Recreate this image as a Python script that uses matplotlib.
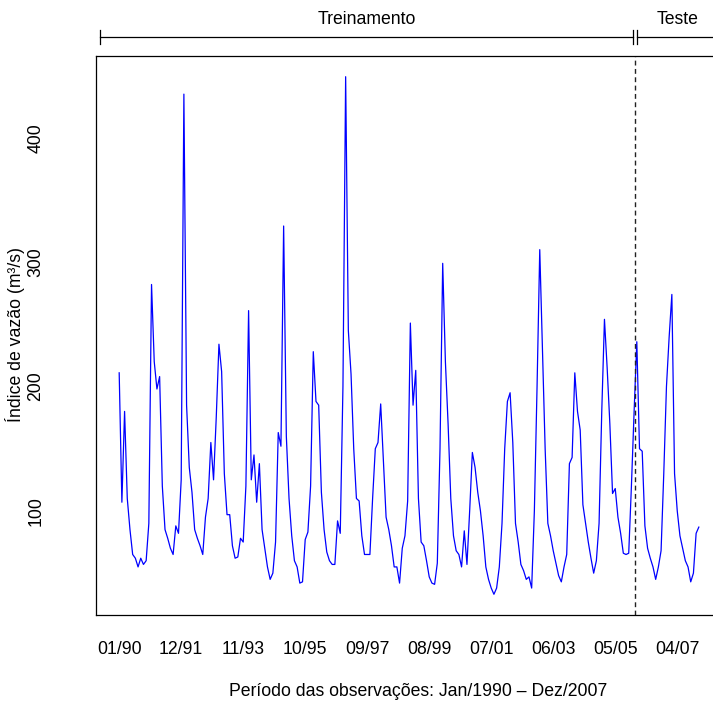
import numpy as np
import matplotlib.pyplot as plt
from matplotlib.transforms import blended_transform_factory

plt.rcParams['font.family'] = ['Liberation Sans', 'DejaVu Sans']

# vazão média mensal (m³/s), jan/1990 a dez/2007
vazao = [
    211, 107, 180, 110, 85, 65, 62, 55, 62, 57, 60, 90,        # 1990
    282, 220, 198, 208, 120, 85, 78, 70, 65, 88, 82, 125,      # 1991
    435, 185, 135, 115, 85, 78, 72, 65, 95, 110, 155, 125,     # 1992
    175, 234, 212, 130, 97, 97, 72, 62, 63, 78, 75, 120,       # 1993
    261, 125, 145, 107, 138, 85, 70, 55, 45, 50, 75, 163,      # 1994
    152, 329, 160, 110, 80, 60, 55, 42, 43, 77, 83, 120,       # 1995
    228, 188, 185, 115, 85, 67, 60, 57, 57, 92, 82, 200,       # 1996
    449, 245, 210, 150, 110, 108, 80, 65, 65, 65, 110, 150,    # 1997
    155, 186, 140, 95, 85, 72, 55, 55, 42, 70, 80, 108,        # 1998
    251, 185, 213, 110, 75, 72, 60, 47, 42, 41, 58, 150,       # 1999
    299, 220, 170, 110, 80, 68, 65, 55, 84, 57, 100, 147,      # 2000
    135, 115, 100, 80, 55, 45, 38, 33, 38, 55, 90, 150,        # 2001
    188, 195, 155, 90, 75, 57, 52, 45, 47, 38, 100, 200,       # 2002
    310, 230, 150, 90, 80, 68, 58, 48, 43, 55, 65, 138,        # 2003
    143, 211, 180, 165, 105, 90, 75, 62, 50, 60, 90, 180,      # 2004
    254, 215, 170, 114, 118, 95, 82, 66, 65, 66, 120, 180,     # 2005
    236, 150, 148, 88, 70, 62, 55, 45, 55, 68, 130, 200,       # 2006
    240, 274, 130, 100, 80, 70, 60, 55, 43, 50, 82, 87,        # 2007
]

x_ticks = [1, 24, 47, 70, 93, 116, 139, 162, 185, 208]
x_labels = ['01/90', '12/91', '11/93', '10/95', '09/97',
            '08/99', '07/01', '06/03', '05/05', '04/07']
y_ticks = [100, 200, 300, 400]

fim_treino = 192   # dez/2005, o resto é teste

meses = np.arange(1, len(vazao) + 1)
fs = 12.7

fig = plt.figure(figsize=(7.13, 7.02), dpi=100)
# a caixa passa um pouco da borda direita, como no original
ax = fig.add_axes([96 / 713, 1 - 615 / 702, (722 - 96) / 713, (615 - 56) / 702])

ax.plot(meses, vazao, color='#0000ff', linewidth=0.9)

ax.axvline(fim_treino + 0.5, color='#222222', linewidth=1.0, linestyle=(0, (3.5, 2.5)))

ax.set_xticks(x_ticks, x_labels)
ax.set_yticks(y_ticks, [str(v) for v in y_ticks])
ax.tick_params(axis='x', length=0, pad=18.5, labelsize=fs)
ax.tick_params(axis='y', length=0, pad=37, labelsize=fs, labelrotation=90)
for lab in ax.get_yticklabels():
    lab.set_verticalalignment('center')

for s in ax.spines.values():
    s.set_linewidth(0.9)

# chaves de treino / teste em cima da caixa
trans = blended_transform_factory(ax.transData, ax.transAxes)
y_br = 1.034
ax.plot([-6, fim_treino - 0.4], [y_br, y_br], transform=trans, clip_on=False,
        color='black', linewidth=0.9)
for xb in (-6, fim_treino - 0.4, fim_treino + 1.1):
    ax.plot([xb, xb], [y_br - 0.012, y_br + 0.012], transform=trans,
            clip_on=False, color='black', linewidth=0.9)
ax.plot([fim_treino + 1.1, 240], [y_br, y_br], transform=trans, clip_on=False,
        color='black', linewidth=0.9)
ax.text((-6 + fim_treino - 0.4) / 2, 1.066, 'Treinamento', transform=trans,
        ha='center', va='center', fontsize=fs)
ax.text(208.3, 1.066, 'Teste', transform=trans, ha='center', va='center',
        fontsize=fs)

# limites como no R: 4% de folga em cada lado
n = len(vazao)
ax.set_xlim(1 - 0.04 * (n - 1), n + 0.04 * (n - 1))
vmin, vmax = min(vazao), max(vazao)
ax.set_ylim(vmin - 0.04 * (vmax - vmin), vmax + 0.04 * (vmax - vmin))

fig.text(15 / 713, 1 - 335 / 702, 'Índice de vazão (m³/s)', rotation=90,
         ha='center', va='center', fontsize=fs)
fig.text(418 / 713, 1 - 692 / 702, 'Período das observações: Jan/1990 – Dez/2007',
         ha='center', va='center', fontsize=fs)

fig.savefig('out.png', dpi=100)
